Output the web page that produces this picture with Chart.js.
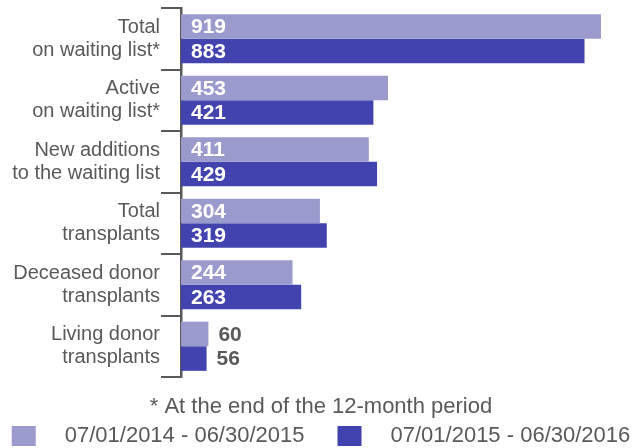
<!DOCTYPE html>
<html>
<head>
<meta charset="utf-8">
<script src="https://cdn.jsdelivr.net/npm/chart.js@4"></script>
<style>
  html, body { margin: 0; padding: 0; background: #ffffff; }
  #wrap { width: 642px; height: 448px; position: relative; }
</style>
</head>
<body>
<div id="wrap"><canvas id="c" width="642" height="448"></canvas></div>
<script>
// ---- data ----
const categories = [
  ["Total", "on waiting list*"],
  ["Active", "on waiting list*"],
  ["New additions", "to the waiting list"],
  ["Total", "transplants"],
  ["Deceased donor", "transplants"],
  ["Living donor", "transplants"]
];
const seriesNames = ["07/01/2014 - 06/30/2015", "07/01/2015 - 06/30/2016"];
const period1 = [919, 453, 411, 304, 244, 60];
const period2 = [883, 421, 429, 319, 263, 56];
const footnote = "* At the end of the 12-month period";

// ---- styles ----
const FONT = '"Liberation Sans", Arial, Helvetica, sans-serif';
const GRAY = '#595959';
const LIGHT = '#9a9acd';
const DARK = '#4343af';

const valueLabels = {
  id: 'valueLabels',
  afterDatasetsDraw(chart) {
    const ctx = chart.ctx;
    ctx.save();
    ctx.font = 'bold 21px ' + FONT;
    ctx.textBaseline = 'middle';
    ctx.textAlign = 'left';
    chart.data.datasets.forEach((ds, di) => {
      const meta = chart.getDatasetMeta(di);
      meta.data.forEach((bar, i) => {
        const txt = String(ds.data[i]);
        const w = ctx.measureText(txt).width;
        const len = bar.x - bar.base;
        let x, color;
        if (len > w + 20) { x = bar.base + 10; color = '#ffffff'; }
        else { x = bar.x + 10; color = GRAY; }
        ctx.fillStyle = color;
        ctx.fillText(txt, x, bar.y + 1);
      });
    });
    ctx.restore();
  }
};

const bottomLegend = {
  id: 'bottomLegend',
  afterDraw(chart) {
    const ctx = chart.ctx;
    const W = chart.width;
    ctx.save();
    ctx.font = '22px ' + FONT;
    ctx.fillStyle = GRAY;
    ctx.textBaseline = 'alphabetic';
    ctx.textAlign = 'center';
    ctx.fillText(footnote, W / 2, 413);
    const boxW = 24, boxH = 20, gapBT = 29, gapItem = 33;
    const items = chart.data.datasets.map(d => ({ text: d.label, color: d.backgroundColor, w: ctx.measureText(d.label).width }));
    let total = 0;
    items.forEach((it, k) => { total += boxW + gapBT + it.w + (k < items.length - 1 ? gapItem : 0); });
    let x = (W - total) / 2;
    ctx.textAlign = 'left';
    items.forEach(it => {
      ctx.fillStyle = it.color;
      ctx.fillRect(x, 426, boxW, boxH);
      x += boxW + gapBT;
      ctx.fillStyle = GRAY;
      ctx.fillText(it.text, x, 442);
      x += it.w + gapItem;
    });
    ctx.restore();
  }
};

new Chart(document.getElementById('c'), {
  type: 'bar',
  data: {
    labels: categories,
    datasets: [
      { label: seriesNames[0], data: period1, backgroundColor: LIGHT, borderWidth: 0, categoryPercentage: 0.8, barPercentage: 1.0 },
      { label: seriesNames[1], data: period2, backgroundColor: DARK, borderWidth: 0, categoryPercentage: 0.8, barPercentage: 1.0 }
    ]
  },
  options: {
    indexAxis: 'y',
    responsive: false,
    animation: false,
    devicePixelRatio: 1,
    layout: { padding: { left: 0, right: 4, top: 8, bottom: 71 } },
    plugins: {
      legend: { display: false },
      tooltip: { enabled: false },
      title: { display: false }
    },
    scales: {
      x: {
        display: false,
        min: 0,
        max: 1000
      },
      y: {
        position: 'left',
        afterFit(scale) { scale.width = 181; scale.paddingTop = 0; scale.paddingBottom = 0; },
        border: { display: true, color: GRAY, width: 2.5 },
        grid: {
          display: true,
          offset: true,
          drawOnChartArea: false,
          drawTicks: true,
          tickLength: 20,
          tickWidth: 2,
          tickColor: GRAY,
          color: GRAY,
          lineWidth: 2
        },
        ticks: {
          color: GRAY,
          padding: 1,
          font: { family: FONT, size: 20, lineHeight: 1.15 }
        }
      }
    }
  },
  plugins: [valueLabels, bottomLegend]
});
</script>
</body>
</html>
